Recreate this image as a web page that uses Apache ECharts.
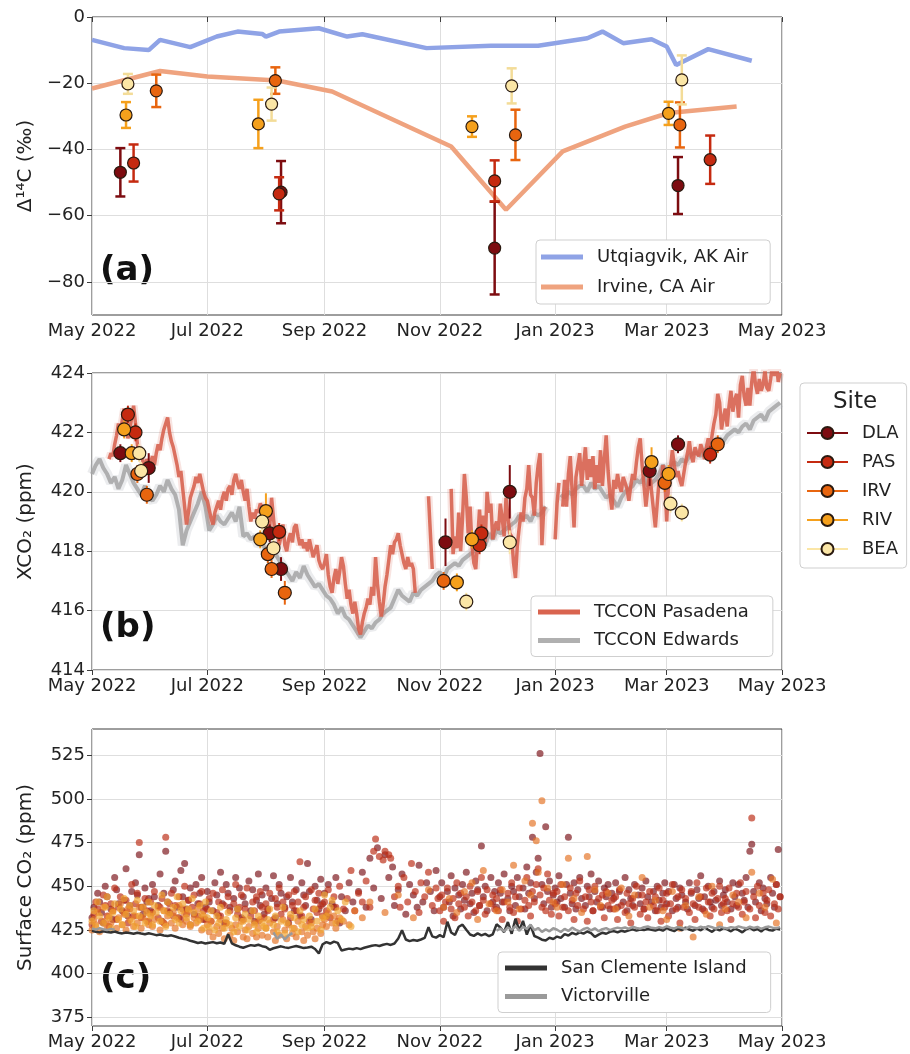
<!DOCTYPE html>
<html><head><meta charset="utf-8">
<script src="https://cdn.jsdelivr.net/npm/echarts@6/dist/echarts.min.js"></script>
<style>html,body{margin:0;padding:0;background:#fff}#c{width:910px;height:1054px}</style>
</head><body><div id="c"></div><script>
// ---------------- DATA ----------------
const xTickDates = ['2022-05-01','2022-07-01','2022-09-01','2022-11-01','2023-01-01','2023-03-01','2023-05-01'];
const yTicksA = [-80,-60,-40,-20,0];
const yTicksC = [375,400,425,450,475,500,525];

// Panel (a): background air Δ14C
const utqDates = ['2022-05-01','2022-05-18','2022-05-31','2022-06-06','2022-06-22','2022-07-06','2022-07-17','2022-07-30','2022-08-01','2022-08-08','2022-08-29','2022-09-13','2022-09-21','2022-10-25','2022-11-28','2022-12-23','2023-01-18','2023-01-26','2023-02-06','2023-02-21','2023-03-01','2023-03-06','2023-03-23','2023-04-15'];
const utqValues = [-6.9,-9.4,-10.0,-6.9,-9.1,-5.9,-4.4,-5.1,-5.9,-4.4,-3.4,-5.9,-5.2,-9.4,-8.7,-8.7,-6.4,-4.4,-7.9,-6.7,-8.9,-14.5,-9.7,-13.2];
const irvAirDates = ['2022-05-01','2022-06-06','2022-07-01','2022-08-07','2022-09-05','2022-11-07','2022-12-06','2023-01-05','2023-02-07','2023-03-02','2023-04-07'];
const irvAirValues = [-21.6,-16.3,-18.0,-19.2,-22.5,-39.1,-58.2,-40.6,-33.1,-29.0,-27.0];

// Panel (a): site Δ14C [date, value, error]
const dlaC14 = [['2022-05-16',-46.9,7.3],['2022-08-09',-52.9,9.4],['2022-11-30',-69.8,14.0],['2023-03-07',-50.9,8.6]];
const pasC14 = [['2022-05-23',-44.1,5.6],['2022-08-08',-53.4,5.0],['2022-11-30',-49.5,6.2],['2023-03-24',-43.1,7.3]];
const irvC14 = [['2022-06-04',-22.3,4.9],['2022-08-06',-19.2,4.0],['2022-12-11',-35.6,7.6],['2023-03-08',-32.6,6.8]];
const rivC14 = [['2022-05-19',-29.6,3.9],['2022-07-28',-32.3,7.3],['2022-11-18',-33.1,3.1],['2023-03-02',-29.1,3.5]];
const beaC14 = [['2022-05-20',-20.2,3.0],['2022-08-04',-26.3,5.0],['2022-12-09',-20.8,5.3],['2023-03-09',-19.0,7.4]];

// Panel (b): site XCO2 [date, value, error]
const dlaXco2 = [['2022-05-16',421.3,0.3],['2022-05-31',420.8,0.5],['2022-08-03',418.6,0.3],['2022-08-09',417.4,0.4],['2022-11-04',418.3,0.8],['2022-12-08',420.0,0.9],['2023-02-20',420.7,0.5],['2023-03-07',421.6,0.3]];
const pasXco2 = [['2022-05-20',422.6,0.3],['2022-05-24',422.0,0.3],['2022-08-08',418.65,0.3],['2022-11-22',418.2,0.3],['2022-11-23',418.6,0.3],['2023-03-24',421.25,0.3]];
const irvXco2 = [['2022-05-25',420.6,0.3],['2022-05-30',419.9,0.3],['2022-08-02',417.9,0.3],['2022-08-04',417.4,0.3],['2022-08-11',416.6,0.4],['2022-11-03',417.0,0.3],['2023-02-28',420.3,0.3],['2023-03-28',421.6,0.3]];
const rivXco2 = [['2022-05-18',422.1,0.3],['2022-05-22',421.3,0.3],['2022-07-29',418.4,0.3],['2022-08-01',419.35,0.6],['2022-11-10',416.95,0.3],['2022-11-18',418.4,0.3],['2023-02-21',421.0,0.5],['2023-03-02',420.6,0.3]];
const beaXco2 = [['2022-05-26',421.3,0.3],['2022-05-27',420.7,0.3],['2022-07-30',419.0,0.3],['2022-08-05',418.1,0.3],['2022-11-15',416.3,0.3],['2022-12-08',418.3,0.4],['2023-03-03',419.6,0.3],['2023-03-09',419.3,0.3]];

// Panel (b): TCCON daily XCO2 (Pasadena from 2022-05-10, daily; Edwards from 2022-05-01, every 2 days)
const pasadenaStart = '2022-05-10';
const pasadenaXco2 = [
421.1,421.3,421.2,421.6,421.9,422.3,422.0,422.4,422.8,422.2,421.8,422.1,422.5,422.9,422.3,421.6,421.2,421.4,421.0,420.8,421.1,420.9,
421.0,421.2,420.9,421.3,421.6,421.4,421.8,422.1,422.3,422.5,422.0,421.7,421.5,421.2,420.9,420.5,420.7,420.1,419.5,418.9,419.3,419.8,420.0,420.2,420.5,420.3,420.6,420.3,420.0,419.8,
419.7,419.4,419.1,418.9,419.3,419.5,419.7,419.4,419.8,420.0,419.7,420.1,420.2,419.9,420.4,420.6,420.3,420.1,420.4,420.0,419.7,420.1,419.5,419.0,419.3,419.1,419.4,419.3,419.6,419.5,419.2,
418.9,418.5,418.8,419.8,419.1,418.5,418.7,418.2,418.5,418.9,418.2,418.0,418.4,418.6,418.3,418.8,418.9,418.5,418.2,418.4,418.1,418.3,418.0,418.4,418.1,417.8,418.0,418.2,417.7,417.5,417.4,
417.6,417.9,417.2,416.8,416.6,417.1,417.4,416.9,417.3,417.8,417.5,416.9,416.4,416.7,416.2,415.9,416.3,415.9,415.4,415.2,415.6,415.9,416.1,416.4,416.2,416.8,416.5,417.8,416.9,416.3,
415.8,416.2,416.8,417.2,417.7,418.2,417.9,418.3,418.4,418.6,418.2,417.9,417.6,417.4,417.8,417.5,417.6,417.4,416.6,null,null,null,null,null,null,419.85,418.6,417.4,null,null,null,
null,null,null,null,null,null,420.1,417.9,418.5,418.1,419.3,418.0,419.1,420.6,419.8,418.6,419.5,418.2,417.6,417.4,418.4,419.4,418.2,419.2,418.3,420.0,419.3,419.6,418.4,418.8,
419.0,418.7,419.6,419.1,418.5,419.8,419.2,418.6,418.5,417.6,417.1,418.2,418.8,419.3,419.0,419.8,420.1,420.9,419.9,419.8,419.2,420.3,420.9,421.3,418.2,419.5,null,null,null,null,null,
418.4,419.6,420.3,null,419.5,420.4,419.5,420.6,421.2,420.0,418.8,420.5,420.9,421.3,420.2,420.9,421.5,420.4,421.1,420.5,421.2,420.1,420.9,420.3,421.4,420.2,421.1,421.9,420.7,419.9,419.4,
420.4,420.1,420.6,420.2,420.0,420.5,420.3,420.1,419.7,420.2,420.6,420.4,421.0,421.5,421.8,420.9,420.2,419.5,420.1,420.7,420.0,419.4,418.8,419.6,420.4,420.2,420.9,420.5,
419.0,420.3,420.8,421.4,420.9,420.5,420.7,420.4,420.2,420.6,421.0,421.3,421.7,421.2,421.0,421.5,421.3,421.2,421.6,421.4,421.1,421.5,421.8,421.4,421.9,422.3,422.6,423.3,423.0,422.1,422.5,
422.8,422.2,422.9,423.4,422.7,423.1,423.3,422.5,423.6,423.9,423.2,422.9,423.5,422.9,423.7,424.2,423.6,423.3,423.8,423.4,423.6,424.1,423.5,423.4,423.8,424.3,423.9,424.4,423.7,424.0];
const edwardsStart = '2022-05-01';
const edwardsXco2 = [
420.6,420.9,421.1,420.8,420.6,420.3,420.5,420.1,420.4,420.9,
420.6,420.3,420.1,419.9,420.2,419.8,419.7,419.9,420.2,420.0,
420.4,420.1,419.9,419.4,418.2,418.7,419.0,419.3,419.6,420.0,
419.5,418.7,418.9,419.2,419.0,418.9,419.1,419.3,419.0,419.5,
418.5,418.6,418.4,418.5,418.2,418.3,418.0,417.9,418.1,417.8,
417.6,417.4,417.2,417.0,417.3,417.1,417.5,417.2,417.0,416.8,
416.9,416.7,416.5,416.4,416.2,415.9,416.1,415.8,415.7,415.5,
415.3,415.1,415.3,415.5,415.4,415.6,415.7,415.9,416.0,416.1,
416.4,416.7,416.5,416.4,416.3,416.6,416.5,416.7,416.8,416.9,
417.0,417.2,417.3,417.1,417.4,417.5,417.6,417.5,417.7,417.8,
417.9,418.0,418.2,418.3,418.2,418.6,418.4,418.7,418.6,418.7,
418.8,418.9,419.0,419.2,419.1,419.2,419.0,419.3,419.2,419.3,
419.5,null,419.7,null,419.9,419.8,420.0,419.9,420.1,420.2,
420.2,420.0,420.3,420.1,420.2,420.0,419.8,419.9,419.7,419.5,
419.8,420.0,420.1,420.2,420.4,420.3,420.5,420.2,420.3,420.4,
420.6,420.9,420.7,420.8,421.0,420.9,421.1,421.0,421.2,421.3,
421.3,421.2,421.4,421.5,421.4,421.6,421.8,421.7,421.9,422.0,
422.1,422.0,422.2,422.3,422.1,422.4,422.5,422.6,422.4,422.7,
422.8,422.9,423.0];

// Panel (c): daily surface CO2 by site (from 2022-05-01)
const surfaceStart = '2022-05-01';
const dlaSurface = [
432,438,null,446,441,435,429,450,444,null,437,431,455,448,440,null,436,442,460,433,439,447,null,452,445,468,438,434,449,441,443,
436,451,444,null,439,457,430,446,470,441,435,null,448,453,438,432,459,444,463,437,442,449,null,434,451,440,446,455,431,438,
447,441,null,436,452,445,433,458,440,429,451,446,438,null,443,455,437,449,432,444,440,null,453,436,448,430,442,457,439,445,434,
449,437,null,443,456,432,440,451,446,null,438,444,429,455,441,436,448,null,433,452,445,439,463,447,431,null,450,442,437,454,440,
446,433,451,null,440,438,455,null,429,444,null,436,null,452,null,441,null,null,447,null,458,null,438,null,466,null,449,null,472,null,
443,null,468,null,455,null,461,439,null,448,null,457,null,434,null,451,null,445,null,438,462,null,441,null,452,null,447,null,436,459,null,
444,452,438,null,447,441,456,433,449,null,445,437,451,442,458,null,440,446,435,453,448,439,473,444,450,436,null,455,441,447,
438,452,446,441,457,null,443,436,450,447,439,455,444,null,449,437,461,446,452,478,443,458,466,526,451,440,484,447,453,438,445,
449,441,456,443,null,438,451,478,446,440,452,437,448,455,443,null,439,450,444,457,436,447,441,453,null,438,449,444,451,437,446,
443,452,438,447,null,441,455,436,448,443,439,451,null,445,440,449,437,453,444,null,441,447,436,450,442,438,446,452,
440,447,null,436,451,443,438,449,445,null,441,437,452,446,null,439,448,443,456,437,444,null,450,441,438,447,442,null,453,439,445,
448,441,null,437,452,444,439,451,null,446,442,455,438,470,474,447,441,null,452,436,449,443,440,null,455,446,438,451,471,444];
const pasSurface = [
428,434,441,437,null,430,445,439,433,427,440,436,449,431,438,444,null,435,442,429,437,451,433,440,446,475,432,438,443,436,430,
441,435,447,null,432,438,443,429,478,436,440,446,433,439,null,444,431,437,450,434,442,428,438,445,null,433,440,447,436,431,
437,443,430,446,null,435,441,433,448,439,429,444,436,null,440,451,434,438,445,431,437,449,null,433,441,436,444,430,447,438,432,
440,436,446,null,431,443,438,449,434,441,437,null,445,432,439,447,436,441,464,433,438,444,null,430,448,437,442,435,446,439,433,
441,436,448,432,null,444,438,430,450,null,437,null,443,null,459,null,436,null,446,null,441,null,453,null,438,null,470,477,null,467,
null,465,470,null,468,466,null,444,null,450,438,null,455,null,441,null,463,null,447,null,435,452,null,444,null,458,null,439,null,449,443,
436,445,430,441,449,null,437,443,432,452,440,446,null,438,444,433,450,441,null,436,447,439,455,442,434,448,null,440,445,437,
443,436,448,431,441,null,446,438,452,435,444,430,449,437,null,442,455,439,433,447,441,451,460,445,438,449,436,457,442,434,446,
440,447,433,451,438,444,null,436,449,442,431,446,439,453,null,437,444,430,448,441,436,450,null,443,438,445,432,447,439,null,442,
437,444,431,448,439,null,435,446,440,429,443,438,450,null,434,445,437,441,432,447,null,439,444,436,449,430,442,438,
446,433,440,451,null,437,444,429,448,438,443,null,435,447,440,431,452,438,444,null,436,449,441,433,446,437,null,443,450,435,440,
443,436,449,431,440,null,446,438,452,434,441,447,null,437,489,444,432,450,439,null,446,435,442,448,433,null,440,451,437,444];
const irvSurface = [
425,431,428,435,424,null,438,430,427,433,429,436,null,426,432,440,428,434,425,437,431,null,427,433,429,438,426,432,null,430,428,
434,427,431,null,438,425,430,436,428,433,null,429,435,426,432,439,null,428,434,430,436,427,null,432,429,437,431,425,433,null,
428,424,430,421,null,427,423,431,426,420,429,null,422,426,419,428,424,null,430,421,425,420,427,null,423,429,421,426,431,422,null,
426,421,429,null,424,419,427,422,null,431,425,420,428,null,423,426,421,430,null,424,419,427,422,null,429,424,420,426,null,423,428,
431,427,435,null,429,433,426,null,432,null,430,null,null,428,null,null,436,null,null,null,432,null,null,null,441,null,null,null,null,null,
null,null,435,null,null,null,null,null,null,445,null,null,null,null,null,null,null,432,null,null,null,null,null,null,null,448,null,null,null,null,null,
null,null,438,null,null,443,null,null,null,435,null,null,null,447,null,null,null,452,null,null,431,null,null,459,null,null,440,null,null,null,
436,null,null,448,null,null,441,null,null,462,null,null,437,null,null,453,null,null,445,486,null,476,458,null,499,null,null,449,null,null,441,
null,438,null,null,451,null,null,466,null,null,443,null,null,null,435,null,null,467,null,null,null,448,null,null,439,null,null,null,446,null,null,
null,437,null,null,449,null,null,null,433,null,null,445,null,null,null,455,null,null,null,438,null,null,442,null,null,null,436,null,
431,null,null,447,null,null,null,426,null,null,439,null,null,null,421,null,null,444,null,null,null,434,null,null,450,null,null,null,428,null,null,
437,null,null,null,445,null,null,441,null,null,null,432,null,null,458,null,null,null,446,null,null,438,null,null,null,454,null,429,null,null];
const rivSurface = [
430,436,427,441,433,null,429,438,444,432,426,435,440,null,431,437,428,443,434,null,439,430,436,427,442,433,null,438,429,435,441,
433,428,439,435,null,430,445,436,427,441,434,null,438,431,444,429,436,440,null,432,437,428,443,435,null,430,439,434,426,441,
432,427,436,null,425,433,429,438,null,426,431,435,428,null,424,432,437,427,null,430,434,425,431,null,436,428,424,433,null,429,427,
426,431,437,null,428,433,424,null,430,438,423,429,null,434,426,432,null,424,436,428,431,null,426,433,427,null,437,430,null,425,432,
445,433,null,438,442,null,429,436,null,431,null,441,null,null,427,null];

// Panel (c): background stations (from 2022-05-01, every 2 days)
const backgroundStart = '2022-05-01';
const sciCo2 = [
424.5,424.0,423.6,424.2,423.8,423.5,424.1,423.4,423.0,423.5,
423.2,422.8,423.4,422.9,422.5,423.1,422.6,422.0,422.4,421.8,
421.5,421.9,421.2,420.5,420.0,419.6,418.8,418.2,417.5,417.9,
417.2,417.6,418.0,417.4,417.8,417.1,422.5,417.3,416.2,415.4,
414.8,415.6,416.3,415.9,416.5,415.7,415.2,413.6,414.5,415.1,
415.6,415.0,414.7,415.3,415.8,415.2,414.6,414.9,415.4,414.1,
411.5,416.8,418.0,417.2,418.3,417.6,413.2,413.8,414.3,413.9,
414.6,414.0,414.8,415.4,415.9,416.3,415.8,416.5,417.0,416.4,
417.2,420.1,424.8,419.5,418.6,419.2,418.8,419.5,420.4,426.5,
421.3,420.6,422.0,420.8,429.7,423.5,422.1,426.8,428.0,425.1,
422.4,421.6,423.0,421.9,422.7,421.4,422.5,428.2,426.4,423.7,
429.5,422.8,431.4,424.6,430.2,422.3,427.8,421.5,420.6,419.4,
418.9,420.5,419.8,421.2,420.4,422.6,421.8,423.3,422.4,423.6,
422.9,424.1,423.2,421.0,422.3,423.4,422.8,423.9,424.3,423.6,
424.5,424.0,424.8,425.3,424.6,425.2,424.9,425.5,425.1,424.7,
425.4,424.6,426.1,425.0,424.3,425.8,424.9,426.3,425.2,424.5,
425.9,424.8,426.4,425.1,423.9,425.6,424.7,426.0,425.3,424.2,
425.7,424.9,423.6,425.4,426.2,424.8,425.5,424.1,425.9,425.0,
424.6,425.8,425.2];
const victorvilleCo2 = [
425.8,425.2,426.0,425.4,424.9,425.6,425.1,null,null,null,
null,null,null,null,null,null,null,null,null,null,
null,null,null,null,null,null,null,null,null,null,
null,null,null,null,null,null,null,null,null,null,
null,null,null,null,null,null,null,null,423.6,419.8,
422.4,419.5,421.9,423.2,null,null,null,null,null,null,
null,null,null,null,null,null,null,null,null,null,
null,null,null,null,null,null,null,null,null,null,
null,null,null,null,null,null,null,null,null,null,
null,null,null,null,null,null,null,null,null,null,
null,null,null,null,null,null,null,424.6,425.8,424.2,
426.4,425.1,427.2,424.5,426.8,425.6,428.0,424.8,426.1,423.9,
425.3,424.2,426.0,425.1,423.8,425.6,424.4,426.3,425.0,424.1,
425.5,426.2,424.7,425.9,424.3,425.4,426.0,424.9,425.7,426.3,
425.8,426.4,425.6,426.8,426.1,425.7,426.5,427.0,426.2,425.9,
426.6,426.0,427.1,426.3,425.8,426.7,426.2,425.5,426.9,426.4,
425.9,426.8,426.1,427.2,426.5,425.7,426.9,426.3,425.8,426.6,
426.2,427.0,426.4,425.9,426.8,426.1,426.7,425.6,426.5,426.9,
426.3,426.0,426.6];

// ---------------- HELPERS ----------------
const MONTHS = ['Jan','Feb','Mar','Apr','May','Jun','Jul','Aug','Sep','Oct','Nov','Dec'];
function ts(s){ const p = s.split('-').map(Number); return new Date(p[0], p[1]-1, p[2]).getTime(); }
function seriesFrom(start, step, arr){
  const p = start.split('-').map(Number);
  return arr.map((v,i)=>[new Date(p[0], p[1]-1, p[2] + i*step).getTime(), v]);
}
function scatterFrom(start, arr){ return seriesFrom(start, 1, arr).filter(d => d[1] != null); }
function zip(dates, vals){ return dates.map((d,i)=>[ts(d), vals[i]]); }
const FONT = 'DejaVu Sans';
const siteNames = ['DLA','PAS','IRV','RIV','BEA'];
const siteColors = ['#7d0c10','#c52a10','#e8650f','#f5a01c','#fbe6a6'];
const barColors = ['#7d0c10','#c52a10','#e8650f','#f5a01c','#f3dc98'];
const c14Sets = [dlaC14, pasC14, irvC14, rivC14, beaC14];
const xco2Sets = [dlaXco2, pasXco2, irvXco2, rivXco2, beaXco2];
const surfSets = [dlaSurface, pasSurface, irvSurface, rivSurface];
const surfColors = ['rgba(125,22,28,0.85)','rgba(188,46,22,0.85)','rgba(228,116,38,0.85)','rgba(240,164,50,0.85)'];

const xTicks = xTickDates.map(ts);
function xAxis(idx){
  return {type:'value', gridIndex:idx, min: ts('2022-05-01'), max: ts('2023-05-01'),
    axisLine:{show:false},
    axisTick:{show:true, customValues:xTicks, length:5, lineStyle:{color:'#3d3d3d'}},
    axisLabel:{customValues:xTicks, fontFamily:FONT, fontSize:18, color:'#222', margin:7,
      formatter: v => { const d = new Date(v); return MONTHS[d.getMonth()] + ' ' + d.getFullYear(); }},
    splitLine:{show:true, lineStyle:{color:'#dedede', width:1}}};
}
const minus = v => v < 0 ? '\u2212' + Math.abs(v) : String(v);
function yAxis(idx, o){
  return Object.assign({type:'value', gridIndex:idx, axisLine:{show:false},
    nameLocation:'middle', nameGap:56, nameRotate:90,
    nameTextStyle:{fontFamily:FONT, fontSize:20, color:'#222'},
    splitLine:{show:true, lineStyle:{color:'#dedede', width:1}}}, o);
}

function errSeries(data, color, xi, yi, cap, lw, name){
  return {type:'custom', name:name, xAxisIndex:xi, yAxisIndex:yi, z:3,
    data: data.map(d => [ts(d[0]), d[1]-d[2], d[1]+d[2]]),
    encode:{x:0, y:[1,2]},
    renderItem: (params, api) => {
      const lo = api.coord([api.value(0), api.value(1)]);
      const hi = api.coord([api.value(0), api.value(2)]);
      const st = {stroke:color, lineWidth:lw};
      const ch = [{type:'line', shape:{x1:lo[0], y1:lo[1], x2:hi[0], y2:hi[1]}, style:st}];
      if (cap) {
        ch.push({type:'line', shape:{x1:lo[0]-cap, y1:lo[1], x2:lo[0]+cap, y2:lo[1]}, style:st});
        ch.push({type:'line', shape:{x1:hi[0]-cap, y1:hi[1], x2:hi[0]+cap, y2:hi[1]}, style:st});
      }
      return {type:'group', children:ch};
    }};
}

const series = [];
// Panel (a)
series.push({type:'line', name:'Utqiagvik, AK Air', xAxisIndex:0, yAxisIndex:0, symbol:'none', z:2,
  data: zip(utqDates, utqValues), lineStyle:{color:'#8fa3e6', width:4.5}, itemStyle:{color:'#8fa3e6'}});
series.push({type:'line', name:'Irvine, CA Air', xAxisIndex:0, yAxisIndex:0, symbol:'none', z:2,
  data: zip(irvAirDates, irvAirValues), lineStyle:{color:'#efa37f', width:4.5}, itemStyle:{color:'#efa37f'}});
c14Sets.forEach((set, i) => {
  series.push(errSeries(set, barColors[i], 0, 0, 5, 2.5, siteNames[i] + ' \u039414C err'));
  series.push({type:'scatter', name: siteNames[i] + ' \u039414C', xAxisIndex:0, yAxisIndex:0, z:4,
    symbolSize:12, data: set.map(d => [ts(d[0]), d[1]]),
    itemStyle:{color:siteColors[i], borderColor:'#2a1a10', borderWidth:1.2, opacity:1}});
});
// Panel (b)
series.push({type:'line', name:'Edwards band', xAxisIndex:1, yAxisIndex:1, symbol:'none', z:1,
  data: seriesFrom(edwardsStart, 2, edwardsXco2), lineStyle:{color:'rgba(175,180,188,0.25)', width:10}});
series.push({type:'line', name:'TCCON Edwards', xAxisIndex:1, yAxisIndex:1, symbol:'none', z:1,
  data: seriesFrom(edwardsStart, 2, edwardsXco2), lineStyle:{color:'rgba(165,165,165,0.85)', width:4}, itemStyle:{color:'#b0b0b0'}});
series.push({type:'line', name:'Pasadena band', xAxisIndex:1, yAxisIndex:1, symbol:'none', z:2,
  data: seriesFrom(pasadenaStart, 1, pasadenaXco2), lineStyle:{color:'rgba(222,120,105,0.2)', width:8}});
series.push({type:'line', name:'TCCON Pasadena', xAxisIndex:1, yAxisIndex:1, symbol:'none', z:2,
  data: seriesFrom(pasadenaStart, 1, pasadenaXco2), lineStyle:{color:'rgba(214,96,76,0.88)', width:3.5}, itemStyle:{color:'#d9644f'}});
xco2Sets.forEach((set, i) => {
  series.push(errSeries(set, siteColors[i], 1, 1, 0, 2, siteNames[i] + ' XCO2 err'));
  series.push({type:'line', name: siteNames[i], xAxisIndex:1, yAxisIndex:1, z:4,
    symbol:'circle', symbolSize:13, showAllSymbol:true,
    data: set.map(d => [ts(d[0]), d[1]]),
    lineStyle:{color:siteColors[i], width:0, opacity:0},
    itemStyle:{color:siteColors[i], borderColor:'#2a1a10', borderWidth:1.2}});
});
// Panel (c)
surfSets.forEach((arr, i) => {
  series.push({type:'scatter', name: siteNames[i] + ' surface', xAxisIndex:2, yAxisIndex:2, z:2,
    symbolSize:7, data: scatterFrom(surfaceStart, arr), itemStyle:{color:surfColors[i]}});
});
series.push({type:'line', name:'San Clemente Island', xAxisIndex:2, yAxisIndex:2, symbol:'none', z:3,
  data: seriesFrom(backgroundStart, 2, sciCo2), lineStyle:{color:'#333333', width:2.5}, itemStyle:{color:'#333333'}});
series.push({type:'line', name:'Victorville', xAxisIndex:2, yAxisIndex:2, symbol:'none', z:3,
  data: seriesFrom(backgroundStart, 2, victorvilleCo2), lineStyle:{color:'#9a9a9a', width:2.5}, itemStyle:{color:'#9a9a9a'}});

const legendBase = {orient:'vertical', backgroundColor:'#fff', borderColor:'#cfcfcf', borderWidth:1, borderRadius:4,
  itemWidth:42, itemHeight:5, icon:'rect', selectedMode:false,
  textStyle:{fontFamily:FONT, fontSize:18, color:'#222', lineHeight:20, padding:[0,0,0,9]}};

const option = {
  animation:false,
  backgroundColor:'#fff',
  grid:[
    {left:92, top:17, width:690, height:298, show:true, borderColor:'#3d3d3d', borderWidth:1, backgroundColor:'transparent'},
    {left:92, top:373, width:690, height:297, show:true, borderColor:'#3d3d3d', borderWidth:1, backgroundColor:'transparent'},
    {left:92, top:729, width:690, height:297, show:true, borderColor:'#3d3d3d', borderWidth:1, backgroundColor:'transparent'}
  ],
  xAxis:[xAxis(0), xAxis(1), xAxis(2)],
  yAxis:[
    yAxis(0, {min:-90, max:0, name:'\u0394\u00b9\u2074C (\u2030)',
      axisTick:{show:true, customValues:yTicksA, length:5, lineStyle:{color:'#3d3d3d'}},
      axisLabel:{customValues:yTicksA, formatter:minus, fontFamily:FONT, fontSize:18, color:'#222', margin:7}}),
    yAxis(1, {min:414, max:424, interval:2, name:'XCO\u2082 (ppm)',
      axisTick:{show:true, length:5, lineStyle:{color:'#3d3d3d'}},
      axisLabel:{fontFamily:FONT, fontSize:18, color:'#222', margin:7}}),
    yAxis(2, {min:370, max:540, name:'Surface CO\u2082 (ppm)',
      axisTick:{show:true, customValues:yTicksC, length:5, lineStyle:{color:'#3d3d3d'}},
      axisLabel:{customValues:yTicksC, formatter: v => String(v), fontFamily:FONT, fontSize:18, color:'#222', margin:7}})
  ],
  legend:[
    Object.assign({}, legendBase, {left:536, top:240, padding:[7,22,7,5], itemGap:10, data:['Utqiagvik, AK Air','Irvine, CA Air']}),
    Object.assign({}, legendBase, {left:531, top:596, padding:[6,24,6,7], itemGap:8.5, data:['TCCON Pasadena','TCCON Edwards']}),
    Object.assign({}, legendBase, {left:498, top:952, padding:[6,24,6,7], itemGap:8.5, data:['San Clemente Island','Victorville']}),
    Object.assign({}, legendBase, {left:800, top:383, padding:[40,8,9,6], itemGap:9, itemWidth:41, itemHeight:15, icon:null,
      lineStyle:{width:2, opacity:1}, data: siteNames})
  ],
  graphic:[
    {type:'text', left:100, top:254, style:{text:'(a)', font:'bold 34px "DejaVu Sans"', fill:'#111'}},
    {type:'text', left:100, top:611, style:{text:'(b)', font:'bold 34px "DejaVu Sans"', fill:'#111'}},
    {type:'text', left:100, top:962, style:{text:'(c)', font:'bold 34px "DejaVu Sans"', fill:'#111'}},
    {type:'text', z:100, style:{x:855, y:402, text:'Site', textAlign:'center', textVerticalAlign:'middle', font:'23px "DejaVu Sans"', fill:'#222'}}
  ],
  series: series
};
const chart = echarts.init(document.getElementById('c'), null, {renderer:'canvas'});
chart.setOption(option);
</script></body></html>
